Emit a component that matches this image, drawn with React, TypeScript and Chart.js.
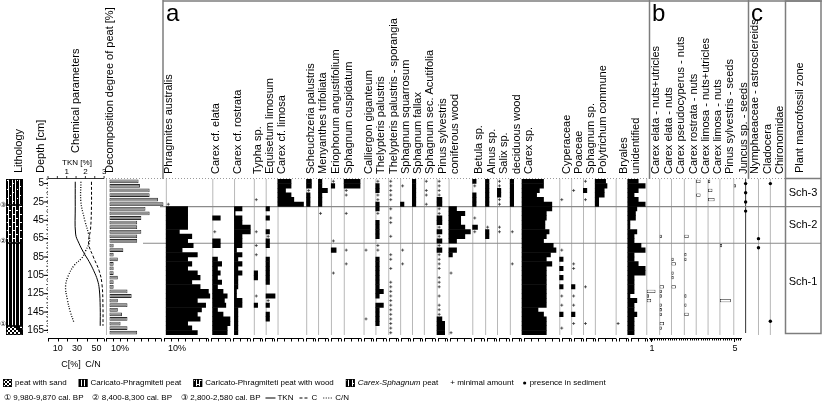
import React, { useEffect, useRef } from 'react';
import { Chart, registerables } from 'chart.js';

Chart.register(...registerables);

// ---------------- DATA ----------------
const _ = 0;
const P = '+'; // minimal amount

// centre depth (cm) of each 5-cm sample
const DEPTHS = [2.5, 7.5, 12.5, 17.5, 22.5, 27.5, 32.5, 37.5, 42.5, 47.5, 52.5, 57.5, 62.5, 67.5, 72.5, 77.5, 82.5, 87.5, 92.5, 97.5, 102.5, 107.5, 112.5, 117.5, 122.5, 127.5, 132.5, 137.5, 142.5, 147.5, 152.5, 157.5, 162.5, 167.5];
const DEPTH_TICKS = [5, 25, 45, 65, 85, 105, 125, 145, 165];

const decomposition = [21, 22, 29, 29, 35, 39, 26, 29, 23, 20, 20, 23, 20, 20, 3, 10, 3, 6, 3, 3, 3, 6, 3, 3, 13, 16, 6, 13, 6, 9, 13, 8, 13, 20];

const phragmites = [_, _, _, _, _, P, 16, 16, 16, 16, 16, 10, 19, 16, 20, 12, 23, 16, 19, 16, 23, 25, 19, 25, 31, 32, 23, 29, 26, 23, 25, 16, 19, 23];
const carexElata = [_, _, _, _, _, _, _, _, 6, _, _, P, _, 6, 6, _, _, 4, 7, 4, 6, 4, 7, 4, 8, 11, 9, 10, 4, 8, 13, 13, 11, 11];
const carexRostrata = [_, _, _, _, _, _, 6, 1, 6, 6, 12, 12, 6, 6, 6, 2, 6, 3, 6, 3, 6, 3, 3, 3, 2, 2, 6, 6, 3, 3, 3, 3, 3, 3];
const typha = [_, _, _, _, P, _, _, _, _, _, _, P, _, _, P, _, P, _, _, _, 3, 3, _, _, _, P, _, 3, _, _, _, _, _, _];
const equisetum = [_, _, _, _, _, _, 3, _, 3, _, _, 3, P, 3, 3, _, _, 3, 3, 3, 3, 3, 3, _, _, 7, P, 3, _, 3, 3, _, _, _];
const carexLimosa = [10, 10, 6, 10, 12, 19, _, _, _, _, _, _, _, _, _, _, _, _, _, _, _, _, _, _, _, _, _, _, _, _, _, _, _, _];
const scheuchzeria = [4, 4, P, 3, 3, 3, _, _, _, _, _, _, _, _, _, _, _, _, _, _, _, _, _, _, _, _, _, _, _, _, _, _, _, _];
const menyanthes = [3, 3, 7, 3, 3, 3, _, P, _, _, _, _, _, _, _, _, _, _, _, _, _, _, _, _, _, _, _, _, _, _, _, _, _, _];
const eriophorum = [P, 3, _, _, _, _, _, _, _, _, _, _, _, P, _, 4, _, _, _, _, P, _, _, _, _, _, _, _, _, _, _, _, _, _];
const sphCuspidatum = [12, 12, P, P, _, _, _, P, _, _, _, _, _, _, _, P, _, _, P, _, _, _, _, _, _, _, _, _, _, _, _, _, _, _];
const calliergon = [_, _, _, _, _, _, _, _, _, _, _, _, _, _, _, P, _, _, _, _, _, _, _, _, _, _, _, _, _, _, P, _, _, _];
const thelypteris = [P, 3, 3, P, P, 3, 3, P, _, 3, 3, 3, 3, _, P, P, _, 3, 3, 3, 3, 3, 3, 3, 6, 3, _, 6, 3, 3, 3, 3, _, _];
const sporangia = [P, P, P, P, P, _, P, _, P, P, _, _, P, _, _, _, P, P, _, P, _, _, P, P, P, P, P, P, P, P, P, P, P, P];
const sphSquarrosum = [_, P, _, _, _, 3, _, _, _, _, _, _, _, _, _, P, _, _, P, _, _, _, _, _, _, _, _, _, _, _, _, _, _, _];
const sphFallax = [3, 3, 3, 3, 3, 3, _, _, _, _, _, _, _, _, _, _, _, _, _, _, _, _, _, _, _, _, _, _, _, _, _, _, _, _];
const acutifolia = [P, _, P, P, _, P, _, _, _, _, _, _, _, _, _, _, _, _, _, _, _, _, _, _, _, _, _, _, _, _, _, _, _, _];
const pinus = [P, P, P, P, 4, 4, P, P, 4, 4, P, 4, P, 4, P, 4, P, P, P, P, _, P, P, P, _, P, _, P, P, P, 4, 6, 6, 6];
const coniferous = [_, _, _, _, _, _, 6, 12, 9, 9, 12, 16, 12, 6, _, 6, 3, _, _, _, P, _, _, _, _, _, _, _, _, _, _, _, _, P];
const betula = [3, P, _, 3, 3, 3, _, _, P, _, 4, P, _, _, _, _, _, _, _, _, _, _, _, _, _, _, _, _, _, _, _, _, _, _];
const alnus = [3, 3, 3, 3, 3, 3, _, _, _, _, P, 3, 3, _, _, _, _, _, _, _, _, _, _, _, _, _, _, _, _, _, _, _, _, _];
const salix = [P, P, 3, 3, P, P, _, _, _, _, P, P, _, _, _, _, _, _, _, _, _, _, _, _, _, _, _, _, _, _, _, _, _, _];
const deciduous = [3, 3, 3, 3, 3, 3, _, _, _, _, _, P, _, _, _, _, _, _, P, _, _, _, _, _, _, _, _, _, _, _, _, _, _, _];
const carexSp = [16, 16, 13, 11, 16, 22, 22, 18, 18, 17, 17, 20, 18, 16, 23, 25, 21, 18, 22, 18, 18, 18, 18, 18, 18, 18, 18, 18, 12, 16, 18, 18, 18, 18];
const cyperaceae = [_, _, _, _, P, _, _, _, _, _, _, _, _, _, _, P, _, 3, _, 3, _, 3, _, 3, _, P, _, P, _, 3, _, _, P, _];
const poaceae = [_, _, P, _, _, _, _, _, _, _, _, _, _, _, _, _, _, _, P, P, _, _, _, 3, _, P, _, P, _, 3, _, P, _, _];
const sphagnumSp = [P, _, 3, _, P, _, _, _, _, _, _, _, _, _, _, _, _, _, _, _, _, _, _, P, _, _, _, _, _, _, _, P, _, _];
const polytrichum = [8, 9, 7, 7, 3, 3, _, _, _, _, _, _, _, _, _, _, _, _, _, _, _, _, _, _, _, _, _, _, _, _, _, _, _, _];
const bryales = [_, _, _, _, _, _, _, _, _, _, _, _, _, _, _, _, _, _, _, _, _, _, _, _, _, _, _, _, _, _, _, P, _, _];
const unidentified = [8, 13, 8, 5, 8, 13, 7, 6, 6, 2, 2, 7, 5, 5, 10, 13, 5, 5, 8, 13, 13, 5, 5, 5, 5, 2, 7, 5, 5, 7, 5, 5, 5, 5];

// panel b: counts
const elataNU = [_, _, _, _, _, _, _, _, _, _, _, _, _, _, _, _, _, _, _, _, _, _, _, _, 4, 1, 2, _, _, _, _, _, _, _];
const elataN = [_, _, _, _, _, _, _, _, _, _, _, _, 1, _, _, _, _, _, _, _, _, _, _, 2, 1, 1, _, 1, 1, 1, _, 2, 1, _];
const pseudocyperusN = [_, _, _, _, _, _, _, _, _, _, _, _, _, _, _, _, _, 1, 2, _, 1, 1, _, 2, _, _, _, _, _, _, _, _, _, _];
const rostrataN = [_, _, _, _, _, _, _, _, _, _, _, _, 2, _, _, _, 1, 1, _, _, _, _, _, _, _, 1, _, 1, _, 2, _, _, _, _];
const limosaNU = [2, _, _, 2, _, _, _, _, _, _, _, _, _, _, _, _, _, _, _, _, _, _, _, _, _, _, _, _, _, _, _, _, _, _];
const limosaN = [1, _, 2, _, 3, _, _, _, _, _, _, _, _, _, _, _, _, _, _, _, _, _, _, _, _, _, _, _, _, _, _, _, _, _];
const pinusSeeds = [_, _, _, _, _, _, _, _, _, _, _, _, _, _, 1, _, _, _, _, _, _, _, _, _, _, _, 5, _, _, _, _, _, _, _];
const juncusSeeds = [_, 1, _, _, _, _, _, _, _, _, _, _, _, _, _, _, _, _, _, _, _, _, _, _, _, _, _, _, _, _, _, _, _, _];

// panel c: presence depths (cm)
const nymphaeaceae = [5, 15, 25, 35];
const cladocera = [65, 75];
const chironomidae = [5, 155];

// chemical parameters
const TKN_DEPTH = [3, 30, 60, 70, 80, 90, 100, 110, 120, 140, 160];
const TKN = [1.25, 1.25, 1.27, 1.45, 1.7, 2.0, 2.25, 2.45, 2.55, 2.6, 2.6];
const C_DEPTH = [3, 30, 55, 70, 85, 100, 115, 140, 160];
const C_PCT = [41, 41, 40, 38, 43, 49, 52, 53, 53];
const CN_DEPTH = [3, 25, 45, 60, 68, 78, 86, 94, 105, 117, 132, 145, 157];
const CN = [30, 30, 34, 38, 39, 35, 31, 23, 17, 14, 16, 19, 23];
const TKN_TICKS = [1, 2, 3];
const C_TICKS = [10, 30, 50];

// zones & lithology
const ZONE_NAMES = ['Sch-3', 'Sch-2', 'Sch-1'];
const ZONE_BOUNDS = [30, 70];
const ZONE_LABEL_DEPTH = [15, 50, 112];
const LITHO_TYPE = ['cs', 'wood', 'cp', 'sand'];
const LITHO_TOP = [0, 28, 70, 160];
const LITHO_BOTTOM = [28, 70, 160, 170];
const DATE_MARKS = ['\u2462', '\u2461', '\u2460'];
const DATE_DEPTHS = [28, 68, 158];
const DATE_TEXT = ['\u2460 9,980-9,870 cal. BP', '\u2461 8,400-8,300 cal. BP', '\u2462 2,800-2,580 cal. BP'];

// ---------------- LAYOUT ----------------
const W = 822;
const H = 415;
const AREA_TOP = 179;
const AREA_BOTTOM = 335;
const PCT_PX = 1.4;
const COUNT_PX = 2.2;
const DECOMP_X = 106;
const DECOMP_END = 161;
const CHEM_L = 48;
const CHEM_R = 104;
const TKN_PX = 18.7;
const C_PX = 0.97;
const AXIS_Y = 338.5;
const FONT = '"Liberation Sans", Arial, Helvetica, sans-serif';

const COLS_A = [
  { label: 'Phragmites australis', x: 163, end: 210, v: phragmites },
  { label: 'Carex cf. elata', x: 210, end: 232, v: carexElata },
  { label: 'Carex cf. rostrata', x: 232, end: 252, v: carexRostrata },
  { label: 'Typha sp.', x: 252, end: 264, v: typha },
  { label: 'Equisetum limosum', x: 264, end: 276, v: equisetum },
  { label: 'Carex cf. limosa', x: 276, end: 305, v: carexLimosa },
  { label: 'Scheuchzeria palustris', x: 305, end: 317, v: scheuchzeria },
  { label: 'Menyanthes trifoliata', x: 317, end: 330, v: menyanthes },
  { label: 'Eriophorum angustifolium', x: 330, end: 343, v: eriophorum },
  { label: 'Sphagnum cuspidatum', x: 343, end: 363, v: sphCuspidatum },
  { label: 'Calliergon giganteum', x: 363, end: 375, v: calliergon },
  { label: 'Thelypteris palustris', x: 375, end: 388, v: thelypteris },
  { label: 'Thelypteris palustris - sporangia', x: 388, end: 400, v: sporangia },
  { label: 'Sphagnum squarrosum', x: 400, end: 412, v: sphSquarrosum },
  { label: 'Sphagnum fallax', x: 412, end: 424, v: sphFallax },
  { label: 'Sphagnum sec. Acutifolia', x: 424, end: 437, v: acutifolia },
  { label: 'Pinus sylvestris', x: 437, end: 449, v: pinus },
  { label: 'coniferous wood', x: 449, end: 473, v: coniferous },
  { label: 'Betula sp.', x: 473, end: 486, v: betula },
  { label: 'Alnus sp.', x: 486, end: 498, v: alnus },
  { label: 'Salix sp.', x: 498, end: 511, v: salix },
  { label: 'deciduous wood', x: 511, end: 523, v: deciduous },
  { label: 'Carex sp.', x: 523, end: 561, v: carexSp },
  { label: 'Cyperaceae', x: 561, end: 573, v: cyperaceae },
  { label: 'Poaceae', x: 573, end: 585, v: poaceae },
  { label: 'Sphagnum sp.', x: 585, end: 597, v: sphagnumSp },
  { label: 'Polytrichum commune', x: 597, end: 618, v: polytrichum },
  { label: 'Bryales', x: 618, end: 630, v: bryales },
  { label: 'unidentified', x: 630, end: 649, v: unidentified },
];

const COLS_B = [
  { label: 'Carex elata - nuts+utricles', x: 649, v: elataNU },
  { label: 'Carex elata - nuts', x: 662, v: elataN },
  { label: 'Carex pseudocyperus - nuts', x: 674, v: pseudocyperusN },
  { label: 'Carex rostrata - nuts', x: 687, v: rostrataN },
  { label: 'Carex limosa - nuts+utricles', x: 699, v: limosaNU },
  { label: 'Carex limosa - nuts', x: 711, v: limosaN },
  { label: 'Pinus sylvestris - seeds', x: 723, v: pinusSeeds },
  { label: 'Juncus sp. - seeds', x: 737, v: juncusSeeds },
];

const COLS_C = [
  { label: 'Nymphaeaceae - astrosclereids', x: 749, d: nymphaeaceae },
  { label: 'Cladocera', x: 762, d: cladocera },
  { label: 'Chironomidae', x: 774, d: chironomidae },
];

// ---------------- helpers ----------------
function barsFrom(values: any[], x0: number, unit: number) {
  const out: any[] = [];
  values.forEach((v, i) => {
    if (typeof v === 'number' && v > 0) out.push({ y: DEPTHS[i], x: [x0, x0 + v * unit] });
  });
  return out;
}
function plusFrom(values: any[], x0: number) {
  const out: any[] = [];
  values.forEach((v, i) => {
    if (v === P) out.push({ y: DEPTHS[i], x: x0 + 2.5 });
  });
  return out;
}

function vtext(ctx: CanvasRenderingContext2D, text: string, x: number, yBottom: number, size: number) {
  ctx.save();
  ctx.translate(x, yBottom);
  ctx.rotate(-Math.PI / 2);
  ctx.font = `${size}px ${FONT}`;
  ctx.textBaseline = 'top';
  ctx.textAlign = 'left';
  ctx.fillStyle = '#000';
  ctx.fillText(text, 0, 0);
  ctx.restore();
}

function htext(ctx: CanvasRenderingContext2D, text: string, x: number, y: number, size: number, align: CanvasTextAlign = 'left', style = '') {
  ctx.save();
  ctx.font = `${style}${size}px ${FONT}`;
  ctx.textBaseline = 'middle';
  ctx.textAlign = align;
  ctx.fillStyle = '#000';
  ctx.fillText(text, x, y);
  ctx.restore();
}

function line(ctx: CanvasRenderingContext2D, x1: number, y1: number, x2: number, y2: number) {
  ctx.beginPath();
  ctx.moveTo(x1, y1);
  ctx.lineTo(x2, y2);
  ctx.stroke();
}

function pattern(ctx: CanvasRenderingContext2D, type: string, x: number, y: number, w: number, h: number) {
  ctx.save();
  ctx.beginPath();
  ctx.rect(x, y, w, h);
  ctx.clip();
  if (type === 'sand') {
    ctx.fillStyle = '#fff';
    ctx.fillRect(x, y, w, h);
    ctx.fillStyle = '#000';
    for (let j = 0; j * 2 < h; j++) {
      for (let i = 0; i * 2 < w; i++) {
        if ((i + j) % 2 === 0 || (i * 7 + j * 3) % 5 === 0) ctx.fillRect(x + i * 2, y + j * 2, 2, 2);
      }
    }
  } else {
    ctx.fillStyle = '#000';
    ctx.fillRect(x, y, w, h);
    ctx.fillStyle = '#fff';
    for (let k = 0; 2.4 + k * 3.4 < w - 1.5; k++) ctx.fillRect(Math.round(x + 2.4 + k * 3.4), y, 1, h);
    if (type === 'wood') {
      for (let j = 0; j * 4 < h; j++) {
        for (let k = 0; k * 3.4 < w; k++) {
          if ((j + k) % 2 === 0) ctx.fillRect(Math.round(x + k * 3.4), Math.round(y + j * 4 + 1), 2, 1);
        }
      }
    }
    if (type === 'cs') {
      for (let j = 0; j * 3 < h; j++) {
        for (let k = 0; k * 3.4 < w; k++) {
          if ((j + k) % 3 === 0) ctx.fillRect(Math.round(x + k * 3.4 + 0.5), Math.round(y + j * 3 + 1), 1, 1);
        }
      }
    }
  }
  ctx.restore();
  ctx.save();
  ctx.strokeStyle = '#000';
  ctx.lineWidth = 0.8;
  ctx.strokeRect(x + 0.4, y + 0.4, w - 0.8, h - 0.8);
  ctx.restore();
}

function drawBottomAxes(ctx: CanvasRenderingContext2D) {
  ctx.save();
  ctx.strokeStyle = '#000';
  ctx.lineWidth = 1;
  const axisSeg = (x0: number, x1: number, step: number) => {
    line(ctx, x0, AXIS_Y, x1, AXIS_Y);
    for (let xx = x0; xx <= x1 + 0.01; xx += step) line(ctx, Math.round(xx) + 0.5, AXIS_Y, Math.round(xx) + 0.5, AXIS_Y + 3);
    line(ctx, Math.round(x1) + 0.5, AXIS_Y, Math.round(x1) + 0.5, AXIS_Y + 3);
  };
  axisSeg(CHEM_L, CHEM_R, 10 * C_PX);
  axisSeg(DECOMP_X, DECOMP_END, 5 * PCT_PX);
  for (const c of COLS_A) axisSeg(c.x + 1, c.end - 2, 5 * PCT_PX);
  line(ctx, 649, AXIS_Y, 742, AXIS_Y);
  for (let xx = 650; xx <= 742; xx += COUNT_PX) line(ctx, Math.round(xx) + 0.5, AXIS_Y, Math.round(xx) + 0.5, AXIS_Y + 2);
  line(ctx, 651.5, AXIS_Y, 651.5, AXIS_Y + 3.5);
  line(ctx, 734.5, AXIS_Y, 734.5, AXIS_Y + 3.5);
  ctx.restore();
}

// ---------------- plugins ----------------
const structurePlugin = {
  id: 'structure',
  beforeDatasetsDraw(chart: any) {
    const ctx: CanvasRenderingContext2D = chart.ctx;
    const X = (v: number) => chart.scales.x.getPixelForValue(v);
    const Y = (d: number) => chart.scales.y.getPixelForValue(d);
    const top = Y(0);
    const bot = Y(170);
    ctx.save();

    // lithology
    for (let i = 0; i < LITHO_TYPE.length; i++) {
      const y1 = Math.round(Y(LITHO_TOP[i]));
      const y2 = Math.round(Y(LITHO_BOTTOM[i]));
      pattern(ctx, LITHO_TYPE[i], 6, y1, 17, y2 - y1);
    }

    // depth axis
    ctx.strokeStyle = '#666';
    ctx.lineWidth = 1;
    ctx.setLineDash([1, 2]);
    line(ctx, CHEM_L - 0.5, top, CHEM_L - 0.5, bot);
    ctx.setLineDash([]);
    for (const d of DEPTHS) {
      line(ctx, CHEM_L - 2, Y(d - 2.5), CHEM_L, Y(d - 2.5));
    }
    ctx.strokeStyle = '#000';
    for (const d of DEPTH_TICKS) line(ctx, CHEM_L - 4, Y(d), CHEM_L, Y(d));

    // column lines
    ctx.strokeStyle = '#b8b8b8';
    ctx.lineWidth = 1;
    line(ctx, DECOMP_X + 0.5, top, DECOMP_X + 0.5, bot);
    for (const c of [...COLS_A, ...COLS_B]) line(ctx, X(c.x) + 0.5, top, X(c.x) + 0.5, bot);
    for (const c of COLS_C.slice(1)) line(ctx, X(c.x) + 0.5, top, X(c.x) + 0.5, bot);
    ctx.strokeStyle = '#333';
    line(ctx, X(COLS_C[0].x) + 0.5, top, X(COLS_C[0].x) + 0.5, bot - 2);

    // top tick dots
    ctx.fillStyle = '#9a9a9a';
    for (let xx = DECOMP_X; xx < 785; xx += 3) ctx.fillRect(xx, top - 1, 1, 1);

    // zone lines
    ctx.strokeStyle = '#8a8a8a';
    ctx.lineWidth = 1.2;
    line(ctx, 160, Y(ZONE_BOUNDS[0]), 821, Y(ZONE_BOUNDS[0]));
    line(ctx, 143, Y(ZONE_BOUNDS[1]), 821, Y(ZONE_BOUNDS[1]));

    // panel frames
    ctx.strokeStyle = '#7d7d7d';
    ctx.lineWidth = 1.5;
    line(ctx, 163, 0, 163, top);
    line(ctx, 163, 1, 822, 1);
    line(ctx, 649.5, 0, 649.5, top);
    line(ctx, 748.5, 0, 748.5, top);
    ctx.strokeRect(785.5, 1, 35.5, 332.5);
    line(ctx, 785.5, top - 0.5, 821, top - 0.5);

    // TKN top axis
    ctx.strokeStyle = '#000';
    ctx.lineWidth = 0.8;
    line(ctx, CHEM_L, top - 0.5, CHEM_R, top - 0.5);
    for (let v = 0; v <= 3.001; v += 0.5) line(ctx, CHEM_L + v * TKN_PX, top - 0.5, CHEM_L + v * TKN_PX, top - 3);

    ctx.restore();
  },
  afterDraw(chart: any) {
    const ctx: CanvasRenderingContext2D = chart.ctx;
    const Y = (d: number) => chart.scales.y.getPixelForValue(d);
    ctx.save();

    drawBottomAxes(ctx);

    // header titles
    vtext(ctx, 'Lithology', 13, 173, 11);
    vtext(ctx, 'Depth [cm]', 35, 173, 11);
    vtext(ctx, 'Chemical parameters', 70, 153, 11);
    vtext(ctx, 'Decomposition degree of peat [%]', 104, 173, 11);
    htext(ctx, 'TKN [%]', 77, 163, 8, 'center');
    TKN_TICKS.forEach((t) => htext(ctx, String(t), CHEM_L + t * TKN_PX, 172, 8, 'center'));

    for (const c of COLS_A) vtext(ctx, c.label, c.x, 174, 11);
    for (const c of COLS_B) vtext(ctx, c.label, c.x + 1, 174, 11);
    for (const c of COLS_C) vtext(ctx, c.label, c.x + 0.5, 174, 11);
    vtext(ctx, 'Plant macrofossil zone', 794, 173, 11);

    htext(ctx, 'a', 166, 14, 24);
    htext(ctx, 'b', 652, 14, 24);
    htext(ctx, 'c', 751, 14, 24);

    // depth labels
    DEPTH_TICKS.forEach((d) => htext(ctx, String(d), 44, Y(d), 10, 'right'));
    // date marks
    DATE_MARKS.forEach((m, i) => htext(ctx, m, 3, Y(DATE_DEPTHS[i]), 7, 'center'));

    // zone labels
    ZONE_NAMES.forEach((z, i) => htext(ctx, z, 803, Y(ZONE_LABEL_DEPTH[i]), 11, 'center'));

    // bottom axis labels
    C_TICKS.forEach((t) => htext(ctx, String(t), CHEM_L + t * C_PX, 349, 9, 'center'));
    htext(ctx, 'C[%]', 71, 365, 9, 'center');
    htext(ctx, 'C/N', 93, 365, 9, 'center');
    htext(ctx, '10%', DECOMP_X + 10 * PCT_PX, 349, 9, 'center');
    htext(ctx, '10%', COLS_A[0].x + 10 * PCT_PX, 349, 9, 'center');
    htext(ctx, '1', 652, 349, 9, 'center');
    htext(ctx, '5', 735, 349, 9, 'center');

    // legend row 1
    const r1 = 383;
    let x = 3;
    const litho = [['sand', 'peat with sand'], ['cp', 'Caricato-Phragmiteti peat'], ['wood', 'Caricato-Phragmiteti peat with wood'], ['cs', '']];
    ctx.font = `8px ${FONT}`;
    for (const [t, label] of litho) {
      pattern(ctx, t, x, r1 - 4, 9, 8);
      x += 12;
      if (label) {
        htext(ctx, label, x, r1, 8);
        ctx.font = `8px ${FONT}`;
        x += ctx.measureText(label).width + 12;
      }
    }
    htext(ctx, 'Carex-Sphagnum', x, r1, 8, 'left', 'italic ');
    ctx.font = `italic 8px ${FONT}`;
    x += ctx.measureText('Carex-Sphagnum').width;
    htext(ctx, ' peat', x, r1, 8);
    ctx.font = `8px ${FONT}`;
    x += ctx.measureText(' peat').width + 12;
    htext(ctx, '+ minimal amount', x, r1, 8);
    x += ctx.measureText('+ minimal amount').width + 9;
    ctx.fillStyle = '#000';
    ctx.beginPath();
    ctx.arc(x + 2, r1, 1.6, 0, Math.PI * 2);
    ctx.fill();
    htext(ctx, 'presence in sediment', x + 7, r1, 8);

    // legend row 2
    const r2 = 398;
    x = 4;
    ctx.font = `8px ${FONT}`;
    for (const t of DATE_TEXT) {
      htext(ctx, t, x, r2, 8);
      ctx.font = `8px ${FONT}`;
      x += ctx.measureText(t).width + 9;
    }
    x -= 4;
    ctx.strokeStyle = '#000';
    ctx.lineWidth = 1;
    line(ctx, x, r2, x + 10, r2);
    htext(ctx, 'TKN', x + 12, r2, 8);
    x += 12 + ctx.measureText('TKN').width + 6;
    ctx.setLineDash([3, 2]);
    line(ctx, x, r2, x + 10, r2);
    htext(ctx, 'C', x + 12, r2, 8);
    x += 12 + ctx.measureText('C').width + 6;
    ctx.setLineDash([1, 1.5]);
    line(ctx, x, r2, x + 10, r2);
    ctx.setLineDash([]);
    htext(ctx, 'C/N', x + 12, r2, 8);

    ctx.restore();
  },
};

// ---------------- config ----------------
function buildConfig(): any {
  const datasets: any[] = [];
  const plus: any[] = [];

  datasets.push({
    type: 'bar',
    data: barsFrom(decomposition, DECOMP_X, PCT_PX),
    backgroundColor: '#8f8f8f',
    borderColor: '#2a2a2a',
    borderWidth: 0.9,
    borderSkipped: false,
    barPercentage: 0.82,
    categoryPercentage: 1,
    grouped: false,
  });

  for (const c of COLS_A) {
    datasets.push({
      type: 'bar',
      data: barsFrom(c.v, c.x, PCT_PX),
      backgroundColor: '#000',
      borderWidth: 0,
      barPercentage: 1.1,
      categoryPercentage: 1,
      grouped: false,
    });
    plus.push(...plusFrom(c.v, c.x));
  }

  for (const c of COLS_B) {
    datasets.push({
      type: 'bar',
      data: barsFrom(c.v, c.x + 0.5, COUNT_PX),
      backgroundColor: '#fff',
      borderColor: '#222',
      borderWidth: 0.8,
      borderSkipped: false,
      barPercentage: 0.72,
      categoryPercentage: 1,
      grouped: false,
    });
  }

  datasets.push({
    type: 'scatter',
    data: plus,
    pointStyle: 'cross',
    radius: 1.5,
    borderWidth: 0.7,
    borderColor: '#222',
    backgroundColor: '#222',
  });

  const dots: any[] = [];
  for (const c of COLS_C) for (const d of c.d) dots.push({ x: c.x + 0.5, y: d });
  datasets.push({
    type: 'scatter',
    data: dots,
    pointStyle: 'circle',
    radius: 1.7,
    borderWidth: 0,
    backgroundColor: '#000',
  });

  const lineDs = (depths: number[], vals: number[], px: number, dash: number[], width: number) => ({
    type: 'line',
    indexAxis: 'y',
    data: depths.map((d, i) => ({ y: d, x: CHEM_L + vals[i] * px })),
    borderColor: '#000',
    borderWidth: width,
    borderDash: dash,
    pointRadius: 0,
    fill: false,
    tension: 0.4,
  });
  datasets.push(lineDs(TKN_DEPTH, TKN, TKN_PX, [], 1));
  datasets.push(lineDs(C_DEPTH, C_PCT, C_PX, [3, 2], 1));
  datasets.push(lineDs(CN_DEPTH, CN, C_PX, [1, 1.6], 1.3));

  return {
    type: 'bar',
    data: { datasets },
    options: {
      indexAxis: 'y',
      responsive: false,
      animation: false,
      devicePixelRatio: 1,
      events: [],
      layout: { padding: { left: 0, right: 0, top: AREA_TOP, bottom: H - AREA_BOTTOM } },
      scales: {
        x: { type: 'linear', min: 0, max: W, display: false, offset: false, grid: { offset: false } },
        y: { type: 'linear', min: 0, max: 170, reverse: true, display: false, offset: false, grid: { offset: false } },
      },
      plugins: { legend: { display: false }, tooltip: { enabled: false } },
    },
    plugins: [structurePlugin],
  };
}

export default function App() {
  const ref = useRef<HTMLCanvasElement>(null);
  useEffect(() => {
    if (!ref.current) return;
    const chart = new Chart(ref.current, buildConfig());
    return () => chart.destroy();
  }, []);
  return (
    <div style={{ position: 'absolute', left: 0, top: 0, width: W, height: H, background: '#fff' }}>
      <canvas ref={ref} width={W} height={H} style={{ display: 'block', width: W, height: H }} />
    </div>
  );
}
